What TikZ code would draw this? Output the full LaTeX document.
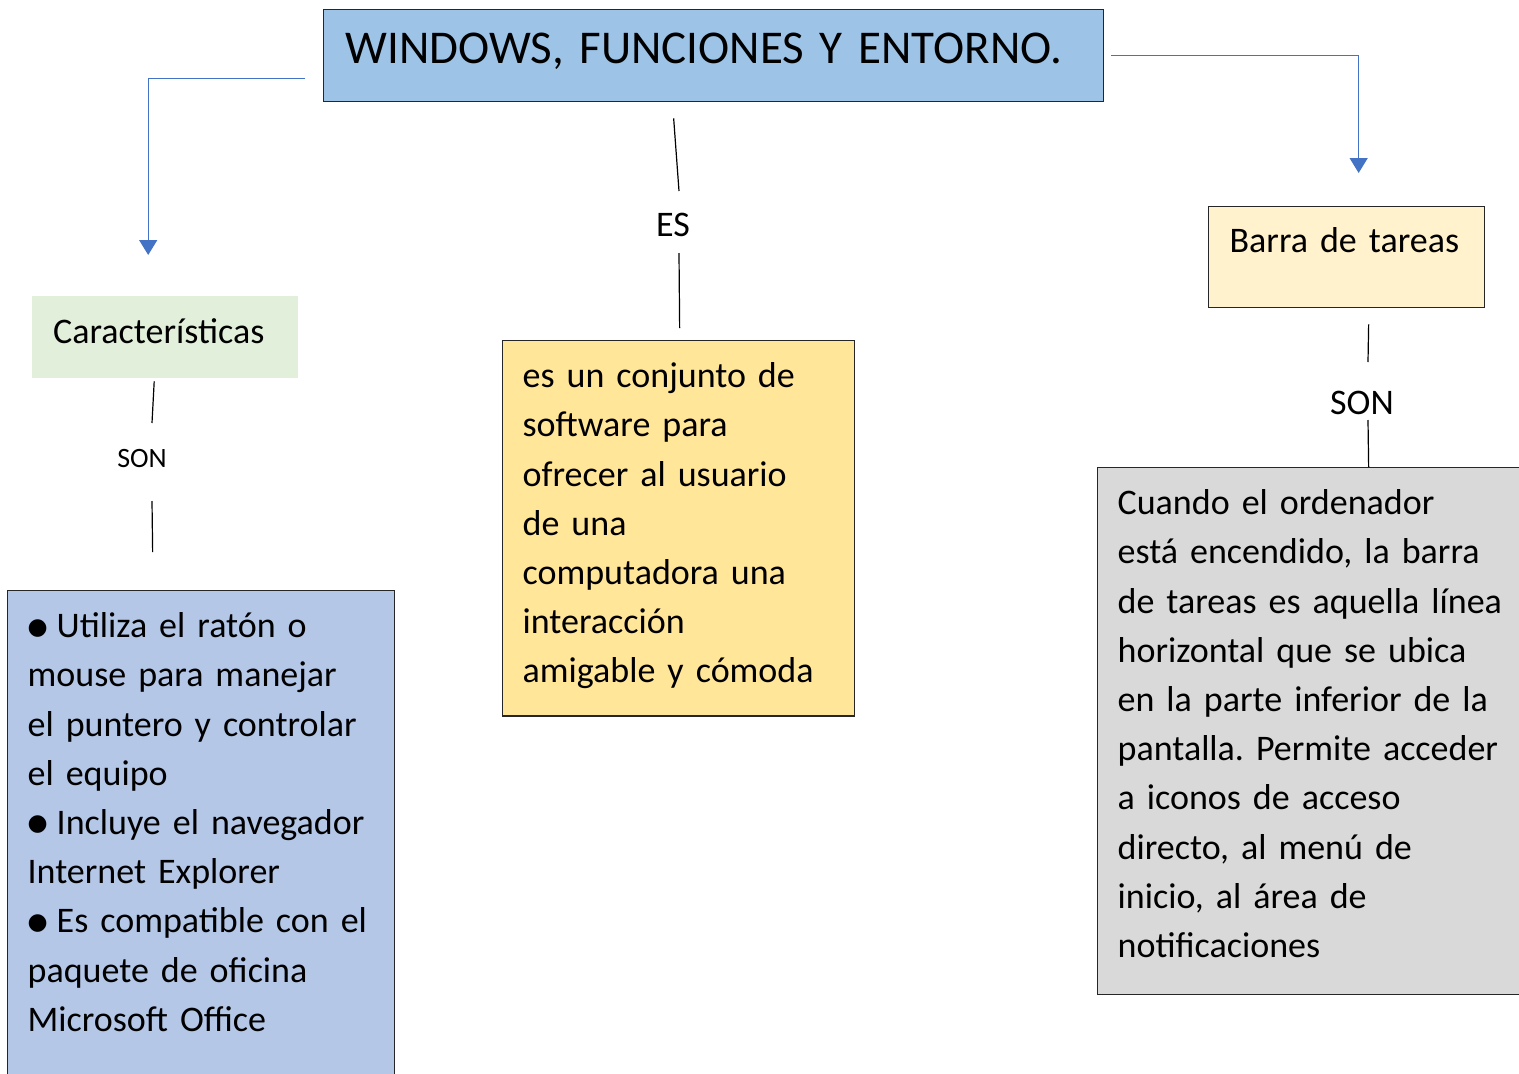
\documentclass[tikz,border=0pt]{standalone}
\usepackage{fontspec}
\setmainfont{Carlito}
\newfontfamily\bulletfont{DejaVu Sans}
\usetikzlibrary{arrows.meta}
\definecolor{titleblue}{HTML}{9DC3E6}
\definecolor{defyellow}{HTML}{FFE699}
\definecolor{barcream}{HTML}{FFF2CC}
\definecolor{cargreen}{HTML}{E2EFDA}
\definecolor{featblue}{HTML}{B4C7E7}
\definecolor{descgray}{HTML}{D9D9D9}
\definecolor{arrowblue}{HTML}{4472C4}
\newcommand{\bul}{\raisebox{3.5pt}{\bulletfont\fontsize{23}{23}\selectfont ●}\hspace{9pt}}
\frenchspacing

\begin{document}
\begin{tikzpicture}[x=1pt,y=-1pt,
  box/.style={draw=black!85,line width=1.3pt,anchor=north west,align=left,inner xsep=20pt,inner ysep=22pt,font=\fontsize{36}{49.2}\selectfont},
  head/.style={anchor=north west,align=left,inner xsep=21pt,inner ysep=0pt,font=\fontsize{36}{40}\selectfont,text height=27pt},
  conn/.style={draw=arrowblue,line width=1.3pt,-{Triangle[width=18pt,length=15pt]}},
  link/.style={draw=black,line width=1.2pt},
  lbl/.style={inner sep=0pt,font=\fontsize{36}{40}\selectfont}]
\useasboundingbox (0,0) rectangle (1519,1074);
%%% boxes
\node[box,fill=titleblue,font=\fontsize{47}{50}\selectfont,text width=736pt,inner xsep=22pt,inner ysep=0pt,text height=35pt,text depth=19pt,minimum height=92pt] (title) at (323,9) {WINDOWS, FUNCIONES Y ENTORNO.};
\node[head,fill=cargreen,text width=224pt,minimum height=82pt,text depth=15pt] (carac) at (32,296) {Características};
\node[head,fill=barcream,draw=black!85,line width=1.3pt,text width=234pt,minimum height=101pt,text depth=36pt] (barra) at (1208,206) {Barra de tareas};
\node[box,fill=defyellow,text width=312pt] (def) at (502,340) {es un conjunto de\\software para\\ofrecer al usuario\\de una\\computadora una\\interacción\\amigable y cómoda\rule[-11pt]{0pt}{11pt}};
\node[box,fill=featblue,text width=347pt] (feat) at (7,590) {\bul Utiliza el ratón o\\mouse para manejar\\el puntero y controlar\\el equipo\\\bul Incluye el~navegador\\Internet Explorer\\\bul Es compatible con~el\\paquete de oficina\\Microsoft Office\rule[-40pt]{0pt}{40pt}};
\node[box,fill=descgray,text width=410pt] (taskdesc) at (1097,467) {Cuando el ordenador\\está encendido, la barra\\de tareas es aquella línea\\horizontal que se ubica\\en la parte inferior de la\\pantalla. Permite acceder\\a iconos de acceso\\directo, al menú de\\inicio, al área de\\notificaciones\rule[-15pt]{0pt}{15pt}};
%%% labels
\node[lbl] (es) at (673,225) {ES};
\node[lbl,font=\fontsize{28}{30}\selectfont] (sonA) at (142,459) {SON};
\node[lbl] (sonB) at (1362,403) {SON};
%%% connectors
\draw[conn,shorten <=18pt,shorten >=41pt] ([yshift=-23pt]title.west) -| ([xshift=-17pt]carac.north);
\draw[conn,shorten <=7pt,shorten >=33pt] (title.east) -| ([xshift=12pt]barra.north);
\draw[link] ([xshift=-40pt,yshift=-16pt]title.south) -- ([xshift=6pt,yshift=34pt]es.center);
\draw[link] ([xshift=6pt,yshift=-28pt]es.center) -- ([xshift=1pt,yshift=12pt]def.north);
\draw[link] ([xshift=-11pt,yshift=-3pt]carac.south) -- ([xshift=10pt,yshift=36pt]sonA.center);
\draw[link] ([xshift=10pt,yshift=-42pt]sonA.center) -- ([xshift=-48.5pt,yshift=38pt]feat.north);
\draw[link] ([xshift=22pt,yshift=-16pt]barra.south) -- ([xshift=6pt,yshift=41pt]sonB.center);
\draw[link] ([xshift=6pt,yshift=-17pt]sonB.center) -- ([xshift=46pt]taskdesc.north);
\end{tikzpicture}
\end{document}
